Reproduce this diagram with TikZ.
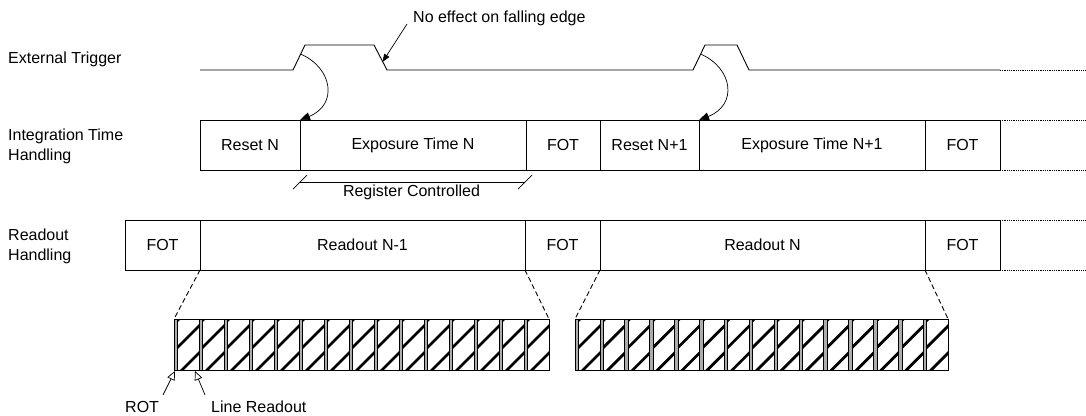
\documentclass[tikz,border=0pt]{standalone}
\usepackage{fontspec}
\setmainfont{Liberation Sans}
\usepackage{tikz}
\usetikzlibrary{arrows.meta}

\tikzset{
  blk/.style={draw, line width=0.8pt, minimum height=50pt, inner sep=0pt, outer sep=0pt},
  wave/.style={line width=0.9pt, line join=miter},
  cont/.style={densely dotted, line width=0.8pt},
  zoomln/.style={dash pattern=on 5pt off 3pt, line width=0.9pt},
  hatch/.style={line width=2.8pt},
  rotbar/.style={fill=gray!65, draw=black, line width=0.6pt},
  trig/.style={line width=0.7pt, -{Triangle[length=10pt,width=8pt]}},
  note/.style={line width=0.7pt, -{Triangle[length=8pt,width=6pt]}},
  hint/.style={line width=0.7pt, -{Triangle[open,length=9pt,width=8pt]}}
}

\begin{document}
\begin{tikzpicture}[x=1pt, y=-1pt, every node/.style={font=\fontsize{16}{20}\selectfont}]
\useasboundingbox (0,0) rectangle (1086,415);

% row labels
\node[anchor=base west, inner sep=0pt] (lbltrig) at (8,63) {External Trigger};
\node[anchor=west, align=left, inner sep=0pt] (lblint) at (8,146) {Integration Time\\Handling};
\node[anchor=west, align=left, inner sep=0pt] (lblro) at (8,246) {Readout\\Handling};

% external trigger
\draw[wave] (200,70) -- (293,70) -- (305,45) -- (374,45) -- (387,70) -- (693,70)
  -- (705,45) -- (737,45) -- (749,70) -- (1000,70);
\draw[cont] (1000,70) -- (1086,70);
\coordinate (rise1) at (300.5,54);
\coordinate (fall1) at (382.5,62);
\coordinate (rise2) at (700.5,54);

\node[anchor=base west, inner sep=0pt] (noeff) at (413,23) {No effect on falling edge};
\coordinate (noefftail) at (407,24);
\draw[note] (noefftail) -- (fall1);

% integration time handling
\foreach \nm/\xa/\xb/\txt in {rstN/200/300/Reset N, expN/300/526/Exposure Time N,
                              fotA/526/600/FOT, rstNa/600/699/Reset N+1,
                              expNa/699/925/Exposure Time N+1, fotB/925/1000/FOT}{
  \node[blk, minimum width=\xb-\xa] (\nm) at ({(\xa+\xb)/2},145) {\txt};
}
\coordinate (intT) at (1086,120);
\coordinate (intB) at (1086,170);
\draw[cont] (fotB.north east) -- (intT);
\draw[cont] (fotB.south east) -- (intB);

\draw[trig] (rise1) .. controls (333,68) and (338,105) .. (expN.north west);
\draw[trig] (rise2) .. controls (733,68) and (738,105) .. (expNa.north west);

% register controlled
\coordinate (rcL) at (300,182.7);
\coordinate (rcR) at (525,182.7);
\draw[line width=0.7pt] (rcL) -- (rcR);
\draw[line width=0.7pt] ([shift={(-7,6.5)}]rcL) -- ([shift={(7,-7.5)}]rcL);
\draw[line width=0.7pt] ([shift={(-7,6.5)}]rcR) -- ([shift={(7,-7.5)}]rcR);
\node (regctl) at (411.5,192.5) {Register Controlled};

% readout handling
\foreach \nm/\xa/\xb/\txt in {fotC/125/200/FOT, roNm/200/525/Readout N-1,
                              fotD/525/600/FOT, roN/600/925/Readout N,
                              fotE/925/1000/FOT}{
  \node[blk, minimum width=\xb-\xa] (\nm) at ({(\xa+\xb)/2},245) {\txt};
}
\coordinate (roT) at (1086,220);
\coordinate (roB) at (1086,270);
\draw[cont] (fotE.north east) -- (roT);
\draw[cont] (fotE.south east) -- (roB);

% line readout strips
\foreach \sx/\cw/\sn in {174/25/sa, 575/24.87/sb}{
  \foreach \i in {0,...,14}{
    \pgfmathsetmacro\cx{\sx+\cw*\i}
    \begin{scope}
      \clip (\cx+3,319) rectangle (\cx+\cw,370);
      \foreach \c in {-5,22,49}
        \draw[hatch] (\cx-27,400-\c) -- (\cx+63,310-\c);
    \end{scope}
    \draw[rotbar] (\cx,319) rectangle (\cx+3.5,370);
  }
  \draw[line width=0.8pt] (\sx,319) rectangle (\sx+15*\cw,370);
  \coordinate (\sn nw) at (\sx,319);
  \coordinate (\sn ne) at (\sx+15*\cw,319);
}
\draw[zoomln] (roNm.south west) -- (sanw);
\draw[zoomln] (roNm.south east) -- (sane);
\draw[zoomln] (roN.south west) -- (sbnw);
\draw[zoomln] (roN.south east) -- (sbne);

% ROT / line readout hints
\node[anchor=base west, inner sep=0pt] (rot) at (125,412.7) {ROT};
\node[anchor=base west, inner sep=0pt] (lnro) at (211,412.7) {Line Readout};
\coordinate (rottail) at (163,395);
\coordinate (rotpt) at (175,371);
\coordinate (lnrotail) at (205,395);
\coordinate (lnropt) at (195,371);
\draw[hint] (rottail) -- (rotpt);
\draw[hint] (lnrotail) -- (lnropt);
\end{tikzpicture}
\end{document}
